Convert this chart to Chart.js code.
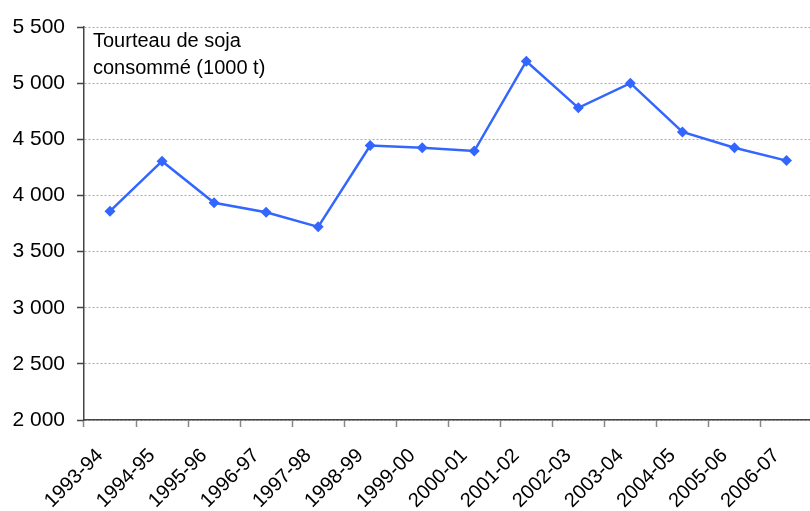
<!DOCTYPE html>
<html>
<head>
<meta charset="utf-8">
<script src="https://cdn.jsdelivr.net/npm/chart.js@4"></script>
<style>
  html, body { margin: 0; padding: 0; background: #fff; overflow: hidden; }
  #wrap { width: 818px; height: 511px; }
</style>
</head>
<body>
<div id="wrap"><canvas id="chart" width="818" height="511"></canvas></div>
<script>
const SEASONS = ['1993-94', '1994-95', '1995-96', '1996-97', '1997-98', '1998-99', '1999-00',
    '2000-01', '2001-02', '2002-03', '2003-04', '2004-05', '2005-06', '2006-07'];
const SOY_MEAL = [3860, 4305, 3935, 3850, 3720, 4445, 4425, 4395, 5195, 4780, 5000, 4565, 4425, 4310];
const Y_MIN = 2000;
const Y_MAX = 5500;
const Y_STEP = 500;
const TITLE_LINES = ['Tourteau de soja', 'consommé (1000 t)'];

const FONT = 'Liberation Sans, Arial, sans-serif';

function formatThousands(v) {
    return String(v).replace(/\B(?=(\d{3})+(?!\d))/g, ' ');
}

// series label written inside the plot, top left
const innerTitle = {
    id: 'innerTitle',
    afterDraw(chart) {
        const { ctx, chartArea } = chart;
        ctx.save();
        ctx.fillStyle = '#000';
        ctx.font = '20px ' + FONT;
        ctx.textAlign = 'left';
        ctx.textBaseline = 'alphabetic';
        TITLE_LINES.forEach((line, i) => {
            ctx.fillText(line, chartArea.left + 9, chartArea.top + 20 + i * 27);
        });
        ctx.restore();
    }
};

new Chart(document.getElementById('chart').getContext('2d'), {
    type: 'line',
    data: {
        labels: SEASONS,
        datasets: [{
            data: SOY_MEAL,
            borderColor: '#3366FF',
            backgroundColor: '#3366FF',
            borderWidth: 2.5,
            pointStyle: 'rectRot',
            pointRadius: 5.5,
            pointBorderWidth: 0,
            tension: 0,
            fill: false,
        }]
    },
    options: {
        responsive: false,
        animation: false,
        layout: { padding: { top: 27, left: 0, right: 0, bottom: 0 } },
        plugins: {
            legend: { display: false },
            tooltip: { enabled: false },
        },
        scales: {
            x: {
                type: 'category',
                offset: true,
                afterFit(scale) {
                    // keep the plot running to the canvas edge
                    scale.height = 91;
                    scale.paddingLeft = 0;
                    scale.paddingRight = 0;
                },
                grid: {
                    offset: true,
                    drawOnChartArea: false,
                    drawTicks: true,
                    tickLength: 7,
                    tickColor: '#888',
                    tickWidth: 1.5,
                },
                border: { color: '#444', width: 1.5 },
                ticks: {
                    autoSkip: false,
                    minRotation: 45,
                    maxRotation: 45,
                    color: '#000',
                    padding: 17,
                    labelOffset: -10,
                    font: { family: FONT, size: 20 },
                },
            },
            y: {
                min: Y_MIN,
                max: Y_MAX,
                afterFit(scale) { scale.width = 84; },
                grid: {
                    color: '#aaa',
                    lineWidth: 1,
                    drawTicks: true,
                    tickLength: 7,
                    tickColor: '#444',
                    tickBorderDash: [],
                    tickWidth: 1.5,
                },
                border: { color: '#444', width: 1.5, dash: [2, 2] },
                ticks: {
                    stepSize: Y_STEP,
                    color: '#000',
                    padding: 12,
                    font: { family: FONT, size: 21 },
                    callback: v => formatThousands(v),
                },
            },
        },
    },
    plugins: [innerTitle],
});
</script>
</body>
</html>
